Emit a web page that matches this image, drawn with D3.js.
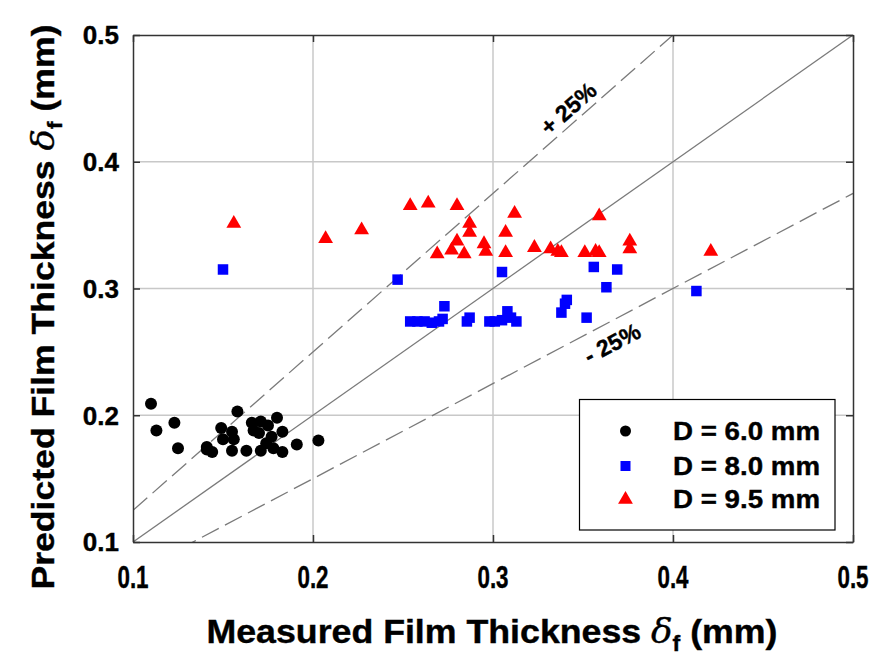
<!DOCTYPE html>
<html>
<head>
<meta charset="utf-8">
<script src="https://cdn.jsdelivr.net/npm/d3@7"></script>
<style>
  html, body { margin: 0; padding: 0; background: #fff; }
  svg { display: block; }
  text { font-family: "Liberation Sans", Arial, sans-serif; font-weight: bold; stroke: #000; stroke-width: 0.4px; }
</style>
</head>
<body>
<svg id="chart" width="876" height="658"></svg>
<script>
// Measured vs predicted film thickness (mm) for three tube diameters
const d60x = [0.110,0.113,0.123,0.125,0.141,0.141,0.144,0.158,0.149,0.150,0.155,0.156,0.155,0.163,0.166,0.167,0.171,0.170,0.175,0.180,0.177,0.174,0.171,0.178,0.183,0.183,0.191,0.203];
const d60y = [0.209,0.188,0.194,0.174,0.175,0.173,0.171,0.203,0.190,0.181,0.187,0.181,0.172,0.172,0.194,0.188,0.195,0.186,0.192,0.198,0.183,0.178,0.172,0.174,0.187,0.171,0.177,0.180];

const d80x = [0.150,0.247,0.273,0.254,0.258,0.262,0.266,0.270,0.272,0.2855,0.287,0.298,0.301,0.305,0.308,0.310,0.313,0.305,0.338,0.340,0.341,0.352,0.356,0.363,0.369,0.413];
const d80y = [0.315,0.307,0.286,0.274,0.274,0.274,0.273,0.274,0.276,0.274,0.277,0.274,0.274,0.275,0.282,0.277,0.274,0.313,0.281,0.288,0.291,0.277,0.317,0.301,0.315,0.298];

const d95x = [0.156,0.207,0.227,0.254,0.264,0.280,0.287,0.287,0.280,0.269,0.277,0.284,0.295,0.296,0.307,0.307,0.312,0.323,0.332,0.336,0.338,0.351,0.357,0.359,0.359,0.376,0.376,0.421];
const d95y = [0.352,0.340,0.347,0.366,0.368,0.366,0.352,0.345,0.338,0.328,0.331,0.328,0.336,0.330,0.345,0.329,0.360,0.333,0.332,0.330,0.329,0.329,0.330,0.358,0.329,0.338,0.332,0.330];

const seriesLabels = ["D = 6.0 mm", "D = 8.0 mm", "D = 9.5 mm"];
const tickValues = [0.1, 0.2, 0.3, 0.4, 0.5];
const deviationBands = [1.25, 0.75];   // ±25 % lines, y = k·x

const svg = d3.select("#chart");
const L = 133, R = 853, T = 35, B = 542;
const x = d3.scaleLinear().domain([0.1, 0.5]).range([L, R]);
const y = d3.scaleLinear().domain([0.1, 0.5]).range([B, T]);

// grid
const grid = svg.append("g");
grid.selectAll("line.gx").data(tickValues.slice(1, -1)).join("line")
  .attr("x1", d => x(d)).attr("x2", d => x(d)).attr("y1", T).attr("y2", B)
  .attr("stroke", "#c8c8c8").attr("stroke-width", 1.5);
grid.selectAll("line.gy").data(tickValues.slice(1, -1)).join("line")
  .attr("y1", d => y(d)).attr("y2", d => y(d)).attr("x1", L).attr("x2", R)
  .attr("stroke", "#c8c8c8").attr("stroke-width", 1.5);

// reference lines, clipped to the plot
svg.append("clipPath").attr("id", "plotclip").append("rect")
  .attr("x", L).attr("y", T).attr("width", R - L).attr("height", B - T);
const refs = svg.append("g").attr("clip-path", "url(#plotclip)");
refs.append("line")
  .attr("x1", x(0.1)).attr("y1", y(0.1)).attr("x2", x(0.5)).attr("y2", y(0.5))
  .attr("stroke", "#7a7a7a").attr("stroke-width", 1.3);
deviationBands.forEach(k => {
  refs.append("line")
    .attr("x1", x(0.1)).attr("y1", y(0.1 * k)).attr("x2", x(0.5)).attr("y2", y(0.5 * k))
    .attr("stroke", "#7a7a7a").attr("stroke-width", 1.3)
    .attr("stroke-dasharray", "19,7");
});

// band labels, rotated along their lines
function bandLabel(k, xv, txt, off) {
  const ang = Math.atan2(y(k * (xv + 0.01)) - y(k * xv), x(xv + 0.01) - x(xv)) * 180 / Math.PI;
  svg.append("text")
    .attr("transform", `translate(${x(xv)},${y(k * xv)}) rotate(${ang}) translate(0,${off})`)
    .attr("text-anchor", "middle").attr("dy", "0.35em").attr("font-size", 23).attr("fill", "#000")
    .text(txt);
}
bandLabel(1.25, 0.347, "+ 25%", -14);
bandLabel(0.75, 0.361, "- 25%", 20);

// axes frame with inward ticks
const axisColor = "#333";
const tickLen = 7;
function styleAxis(g) {
  g.select(".domain").attr("stroke", axisColor).attr("stroke-width", 1.5);
  g.selectAll(".tick line").attr("stroke", axisColor).attr("stroke-width", 1.5);
}
svg.append("g").attr("transform", `translate(0,${B})`)
  .call(d3.axisBottom(x).tickValues(tickValues).tickSizeInner(-tickLen).tickSizeOuter(0).tickFormat("")).call(styleAxis);
svg.append("g").attr("transform", `translate(0,${T})`)
  .call(d3.axisTop(x).tickValues(tickValues).tickSizeInner(-tickLen).tickSizeOuter(0).tickFormat("")).call(styleAxis);
svg.append("g").attr("transform", `translate(${L},0)`)
  .call(d3.axisLeft(y).tickValues(tickValues).tickSizeInner(-tickLen).tickSizeOuter(0).tickFormat("")).call(styleAxis);
svg.append("g").attr("transform", `translate(${R},0)`)
  .call(d3.axisRight(y).tickValues(tickValues).tickSizeInner(-tickLen).tickSizeOuter(0).tickFormat("")).call(styleAxis);

// tick labels
svg.append("g").selectAll("text").data(tickValues).join("text")
  .attr("x", d => x(d)).attr("y", 588)
  .attr("text-anchor", "middle").attr("font-size", 32)
  .attr("transform", d => `translate(${x(d)},0) scale(0.7,1) translate(${-x(d)},0)`)
  .text(d3.format(".1f"));
svg.append("g").selectAll("text").data(tickValues).join("text")
  .attr("x", 119).attr("y", d => y(d)).attr("dy", "0.36em")
  .attr("text-anchor", "end").attr("font-size", 26)
  .text(d3.format(".1f"));

// axis titles
const xt = svg.append("text").attr("x", 492).attr("y", 643)
  .attr("text-anchor", "middle").attr("font-size", 34)
  .attr("textLength", 571).attr("lengthAdjust", "spacingAndGlyphs");
xt.append("tspan").text("Measured Film Thickness ");
xt.append("tspan").attr("font-style", "italic").attr("font-weight", "normal").attr("font-family", "DejaVu Serif, serif").text("δ");
xt.append("tspan").attr("font-size", 22).attr("dy", 8).text("f");
xt.append("tspan").attr("dy", -8).text(" (mm)");

const yt = svg.append("text").attr("transform", "translate(54,307) rotate(-90)")
  .attr("text-anchor", "middle").attr("font-size", 32)
  .attr("textLength", 565).attr("lengthAdjust", "spacingAndGlyphs");
yt.append("tspan").text("Predicted Film Thickness ");
yt.append("tspan").attr("font-style", "italic").attr("font-weight", "normal").attr("font-family", "DejaVu Serif, serif").text("δ");
yt.append("tspan").attr("font-size", 21).attr("dy", 8).text("f");
yt.append("tspan").attr("dy", -8).text(" (mm)");

// markers
const pts = svg.append("g");
pts.selectAll("circle").data(d3.zip(d60x, d60y)).join("circle")
  .attr("cx", d => x(d[0])).attr("cy", d => y(d[1])).attr("r", 6).attr("fill", "#000");
const sq = 10.5;
pts.selectAll("rect.b").data(d3.zip(d80x, d80y)).join("rect")
  .attr("x", d => x(d[0]) - sq / 2).attr("y", d => y(d[1]) - sq / 2)
  .attr("width", sq).attr("height", sq).attr("fill", "#0000ff");
const tri = d3.symbol().type(d3.symbolTriangle).size(95);
pts.selectAll("path.r").data(d3.zip(d95x, d95y)).join("path")
  .attr("d", tri).attr("transform", d => `translate(${x(d[0])},${y(d[1]) + 1})`)
  .attr("fill", "#ff0000");

// legend
const lg = svg.append("g");
lg.append("rect").attr("x", 579.5).attr("y", 399.5).attr("width", 255.5).attr("height", 130.5)
  .attr("fill", "#fff").attr("stroke", "#000").attr("stroke-width", 1.2);
const rows = [431, 466, 498.5];
const mx = 625.5;
lg.append("circle").attr("cx", mx).attr("cy", rows[0]).attr("r", 5.5).attr("fill", "#000");
lg.append("rect").attr("x", mx - 5).attr("y", rows[1] - 5).attr("width", 10).attr("height", 10).attr("fill", "#0000ff");
lg.append("path").attr("d", tri).attr("transform", `translate(${mx},${rows[2] + 1})`).attr("fill", "#ff0000");
lg.selectAll("text").data(seriesLabels).join("text")
  .attr("x", 673).attr("y", (d, i) => rows[i]).attr("dy", "0.36em")
  .attr("font-size", 25).attr("textLength", 147).attr("lengthAdjust", "spacingAndGlyphs")
  .text(d => d);
</script>
</body>
</html>
